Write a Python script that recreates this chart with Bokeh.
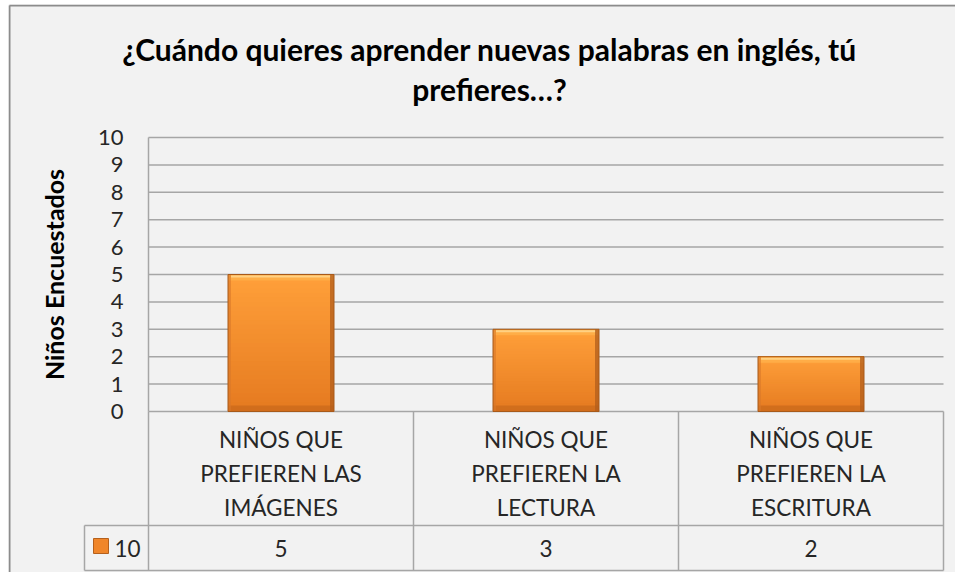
from bokeh.plotting import figure
from bokeh.models import Range1d, FixedTicker, Spacer
from bokeh.layouts import column, row
from bokeh.embed import file_html
from bokeh.resources import INLINE
from bokeh.core.properties import value

# ---------------- data ----------------
title_lines = ["¿Cuándo quieres aprender nuevas palabras en inglés, tú", "prefieres…?"]
categories = [
    "NIÑOS QUE\nPREFIEREN LAS\nIMÁGENES",
    "NIÑOS QUE\nPREFIEREN LA\nLECTURA",
    "NIÑOS QUE\nPREFIEREN LA\nESCRITURA",
]
values = [5, 3, 2]
series_name = "10"
y_ticks = [0, 1, 2, 3, 4, 5, 6, 7, 8, 9, 10]
y_label = "Niños Encuestados"

# ---------------- style / geometry ----------------
BG = "#F2F2F2"
GRID = "#A6A6A6"
TEXT = "#262626"
FONT = "Lato"
X0, X3 = 148, 943          # pixel columns of category 0 start / category 3 end
Y0, Y10 = 411, 137         # pixel rows of y=0 / y=10
PX = (X3 - X0) / 3
PY = (Y0 - Y10) / 10
n = len(categories)
xc = [i + 0.5 for i in range(n)]
BW = 0.4
dx, dy = 1 / PX, 1 / PY
CX, CY, CW, CH = 8, 4, 947, 568   # canvas placement in the page


def X(px):
    return (px - X0) / PX


def Y(py):
    return (Y0 - py) / PY


p = figure(width=CW, height=CH,
           x_range=Range1d(X(CX), X(CX + CW)), y_range=Range1d(Y(CY + CH), Y(CY)),
           output_backend="svg", toolbar_location=None, x_axis_location=None,
           title=None, min_border=0,
           background_fill_color=BG, border_fill_color=BG, outline_line_color=None)
p.xgrid.grid_line_color = None
p.ygrid.grid_line_color = None

# y axis drawn at x = 0 inside the canvas
ax = p.yaxis[0]
ax.fixed_location = 0
ax.bounds = (y_ticks[0], y_ticks[-1])
ax.ticker = FixedTicker(ticks=y_ticks)
ax.axis_line_color = GRID
ax.axis_line_width = 1.5
ax.major_tick_line_color = None
ax.minor_tick_line_color = None
ax.major_tick_out = 0
ax.major_tick_in = 0
ax.major_label_standoff = 25
ax.major_label_text_font = FONT
ax.major_label_text_font_size = "22px"
ax.major_label_text_color = TEXT
ax.axis_label = y_label
ax.axis_label_text_font = FONT
ax.axis_label_text_font_style = "bold"
ax.axis_label_text_font_size = "25px"
ax.axis_label_text_color = "#000000"
ax.axis_label_standoff = 26

# horizontal gridlines over the plot area
p.segment(x0=[0] * len(y_ticks), y0=y_ticks, x1=[n] * len(y_ticks), y1=y_ticks,
          line_color=GRID, line_width=1.5)

# outer chart border (left and top)
p.segment(x0=[X(9), X(9)], y0=[Y(CY + CH), Y(5)], x1=[X(9), X(CX + CW)], y1=[Y(5), Y(5)],
          line_color="#8C8C8C", line_width=2)

# title
p.text(x=[X(489), X(489)], y=[Y(48), Y(88)], text=title_lines, text_align="center",
       text_baseline="middle", text_font=value(FONT), text_font_style="bold",
       text_font_size="30px", text_color="#000000")

# gradient body of the bars (overlapping slices, bottom to top)
N = 30
top_c = (255, 160, 58)
bot_c = (229, 122, 32)
L, R, B, T, C = [], [], [], [], []
for i in range(N):
    f = (i + 0.5) / N
    col = "#%02x%02x%02x" % tuple(int(round(bot_c[k] + (top_c[k] - bot_c[k]) * f)) for k in range(3))
    for x, v in zip(xc, values):
        L.append(x - BW / 2); R.append(x + BW / 2)
        B.append(v * i / N); T.append(v)
        C.append(col)
p.quad(left=L, right=R, bottom=B, top=T, fill_color=C, line_color=None)

left = [x - BW / 2 for x in xc]
right = [x + BW / 2 for x in xc]
zeros = [0] * n
# bevel effects
p.quad(left=left, right=right, bottom=[v - 6 * dy for v in values], top=values,
       fill_color="#FFB04A", line_color=None, fill_alpha=0.85)
p.quad(left=[l + 3 * dx for l in left], right=[r - 3 * dx for r in right],
       bottom=[v - 3 * dy for v in values], top=[v - 1 * dy for v in values],
       fill_color="#FFD58A", line_color=None, fill_alpha=0.9)
p.quad(left=left, right=right, bottom=zeros, top=[6 * dy] * n,
       fill_color="#CC6A1C", line_color=None, fill_alpha=0.8)
p.quad(left=[r - 4 * dx for r in right], right=right, bottom=zeros, top=values,
       fill_color="#B25E1C", line_color=None, fill_alpha=0.75)
p.quad(left=left, right=[l + 3 * dx for l in left], bottom=zeros, top=values,
       fill_color="#D9782A", line_color=None, fill_alpha=0.6)
p.quad(left=left, right=right, bottom=zeros, top=values,
       fill_color=None, line_color="#A85A1A", line_width=1)

# ---------------- data table ----------------
ROW_MID, ROW_BOT = Y(525), Y(570)
LEG = X(84)
vx = list(range(n + 1))
p.segment(x0=vx, y0=[ROW_BOT] * len(vx), x1=vx, y1=[0] * len(vx), line_color=GRID, line_width=1.5)
p.segment(x0=[LEG, LEG, LEG], y0=[ROW_MID, ROW_BOT, ROW_BOT], x1=[n, n, LEG],
          y1=[ROW_MID, ROW_BOT, ROW_MID], line_color=GRID, line_width=1.5)

p.text(x=xc, y=[Y(473)] * n, text=categories, text_align="center",
       text_baseline="middle", text_font=value(FONT), text_font_size="22.5px",
       text_line_height=1.27, text_color=TEXT)
p.text(x=xc, y=[Y(547.5)] * n, text=[str(v) for v in values], text_align="center",
       text_baseline="middle", text_font=value(FONT), text_font_size="22.5px", text_color=TEXT)
p.scatter(x=[X(100.5)], y=[Y(545.5)], marker="square", size=15,
          fill_color="#F0862A", line_color="#B5601C")
p.text(x=[X(114)], y=[Y(547.5)], text=[series_name], text_align="left",
       text_baseline="middle", text_font=value(FONT), text_font_size="22.5px", text_color=TEXT)

root = column(Spacer(width=CX + CW, height=CY),
              row(Spacer(width=CX, height=CH), p, spacing=0), spacing=0)

open("out.html", "w").write(file_html(root, INLINE))
